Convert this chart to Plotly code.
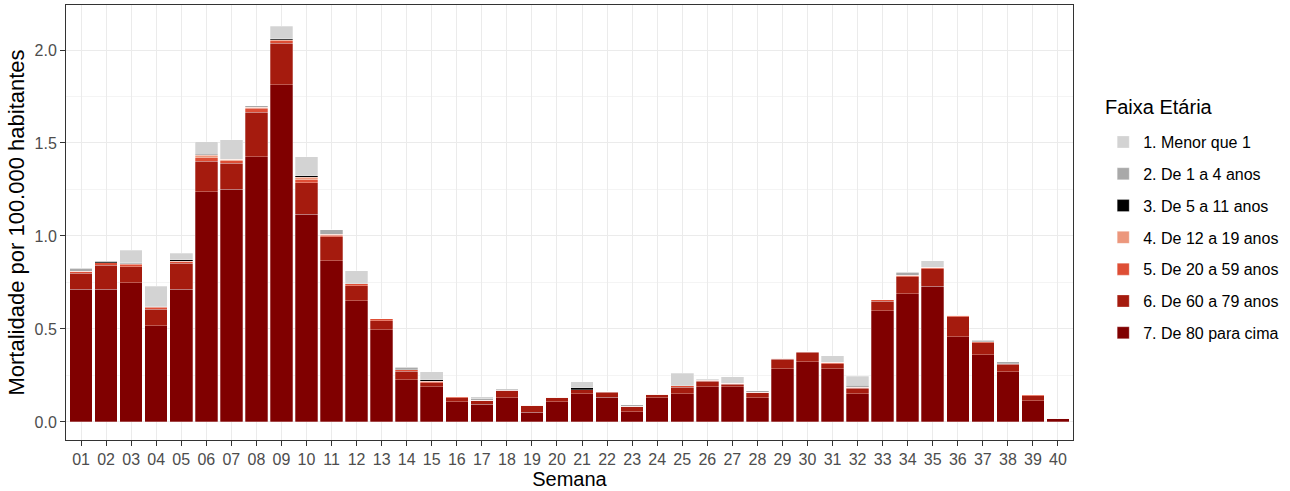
import plotly.graph_objects as go

semanas = [f"{i:02d}" for i in range(1, 41)]

faixas = ["1. Menor que 1", "2. De 1 a 4 anos", "3. De 5 a 11 anos",
          "4. De 12 a 19 anos", "5. De 20 a 59 anos", "6. De 60 a 79 anos",
          "7. De 80 para cima"]
cores = ["#D3D3D3", "#A9A9A9", "#000000", "#EC977C", "#DE4E35", "#A51B0E", "#800000"]

menor_1 = [0.005, 0, 0.068, 0.111, 0.036, 0.068, 0.106, 0, 0.068, 0.102,
           0, 0.072, 0, 0, 0.040, 0, 0.012, 0, 0, 0,
           0.033, 0, 0, 0, 0.069, 0, 0.034, 0, 0, 0,
           0.036, 0.049, 0, 0, 0.033, 0, 0, 0, 0, 0]
de_1_4 = [0.015, 0, 0.004, 0, 0, 0, 0, 0.008, 0, 0,
          0.025, 0, 0, 0.014, 0.005, 0, 0.006, 0, 0, 0,
          0, 0, 0.009, 0, 0, 0.006, 0, 0.008, 0, 0,
          0, 0.009, 0, 0.017, 0, 0, 0.009, 0.009, 0, 0]
de_5_11 = [0, 0.008, 0, 0, 0.008, 0.006, 0, 0, 0.007, 0.008,
           0, 0, 0, 0, 0.006, 0, 0, 0.007, 0, 0,
           0.010, 0, 0, 0, 0, 0, 0, 0, 0, 0,
           0, 0, 0, 0, 0, 0, 0, 0, 0, 0]
de_12_19 = [0, 0, 0.004, 0.004, 0, 0.012, 0.008, 0.004, 0.004, 0.012,
            0.005, 0, 0, 0, 0, 0, 0, 0, 0, 0,
            0, 0, 0, 0, 0, 0, 0, 0, 0, 0,
            0, 0, 0, 0, 0, 0, 0, 0, 0, 0]
de_20_59 = [0.010, 0.012, 0.012, 0.010, 0.010, 0.018, 0.014, 0.022, 0.014, 0.016,
            0.008, 0.009, 0.009, 0.006, 0.010, 0.005, 0, 0, 0.004, 0.005,
            0, 0.004, 0, 0.004, 0.008, 0.003, 0.004, 0.003, 0.005, 0.004,
            0.007, 0.008, 0.006, 0.008, 0.008, 0.009, 0.004, 0.004, 0.005, 0]
de_60_79 = [0.087, 0.131, 0.086, 0.088, 0.140, 0.166, 0.139, 0.239, 0.224, 0.170,
            0.130, 0.081, 0.050, 0.048, 0.020, 0.022, 0.023, 0.039, 0.035, 0.020,
            0.022, 0.026, 0.030, 0.014, 0.035, 0.030, 0.014, 0.026, 0.050, 0.050,
            0.027, 0.028, 0.053, 0.091, 0.094, 0.107, 0.064, 0.041, 0.027, 0.002]
de_80_mais = [0.713, 0.713, 0.749, 0.518, 0.713, 1.237, 1.251, 1.426, 1.812, 1.117,
              0.866, 0.652, 0.495, 0.226, 0.190, 0.109, 0.095, 0.131, 0.052, 0.109,
              0.152, 0.133, 0.054, 0.131, 0.151, 0.190, 0.190, 0.131, 0.287, 0.324,
              0.287, 0.152, 0.597, 0.690, 0.731, 0.459, 0.362, 0.269, 0.113, 0.018]

series = [menor_1, de_1_4, de_5_11, de_12_19, de_20_59, de_60_79, de_80_mais]

fig = go.Figure()
# stack from oldest group (bottom) to youngest (top)
for i in reversed(range(7)):
    fig.add_trace(go.Bar(
        x=semanas, y=series[i], name=faixas[i],
        marker=dict(color=cores[i], line=dict(color="rgba(255,255,255,0.55)", width=0.5)),
        legendgroup=faixas[i],
        legendrank=i + 1,
    ))

font_family = "Liberation Sans, Arial, sans-serif"
fig.update_layout(
    barmode="stack",
    bargap=0.1,
    width=1290, height=491,
    margin=dict(l=66, r=217, t=5, b=51),
    plot_bgcolor="white",
    paper_bgcolor="white",
    font=dict(family=font_family, color="#000000"),
    legend=dict(
        traceorder="grouped",
        tracegroupgap=8,
        font=dict(size=16, color="#000000"),
        x=1.03, xanchor="left", y=0.724, yanchor="top",
        bgcolor="rgba(0,0,0,0)",
        itemwidth=30,
    ),
    showlegend=True,
    annotations=[dict(
        text="Faixa Etária", xref="paper", yref="paper",
        x=1.0298, y=0.7655, xanchor="left", yanchor="middle",
        showarrow=False, font=dict(size=20, color="#000000"),
    )],
)
fig.update_xaxes(
    title=dict(text="Semana", font=dict(size=20, color="#000000"), standoff=2),
    range=[-0.6, 39.6],
    automargin=False,
    showgrid=True, gridcolor="#EBEBEB", gridwidth=1,
    ticks="outside", ticklen=5, tickcolor="#333333",
    tickfont=dict(size=16, color="#4D4D4D"),
    showline=True, linecolor="#333333", linewidth=1, mirror=True,
    zeroline=False,
)
fig.update_yaxes(
    title=dict(text="Mortalidade por 100.000 habitantes", font=dict(size=22, color="#000000"), standoff=3),
    range=[-0.097, 2.242],
    automargin=False,
    tickvals=[0, 0.5, 1.0, 1.5, 2.0],
    ticktext=["0.0", "0.5", "1.0", "1.5", "2.0"],
    showgrid=True, gridcolor="#EBEBEB", gridwidth=1,
    minor=dict(tickvals=[0.25, 0.75, 1.25, 1.75, 2.25], showgrid=True, gridcolor="#F4F4F4", gridwidth=0.6),
    ticks="outside", ticklen=5, tickcolor="#333333",
    tickfont=dict(size=16, color="#4D4D4D"),
    showline=True, linecolor="#333333", linewidth=1, mirror=True,
    zeroline=False,
)

fig.write_html("out.html", config={"displayModeBar": False},
               post_script="document.body.style.margin='0';")
